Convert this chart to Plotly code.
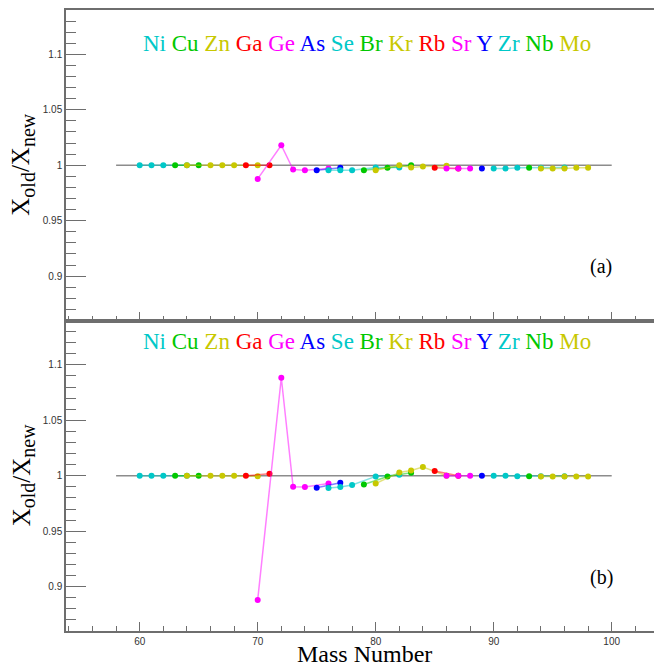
import plotly.graph_objects as go

# ---------------- data ----------------
ELEMENTS = ["Ni", "Cu", "Zn", "Ga", "Ge", "As", "Se", "Br", "Kr", "Rb", "Sr", "Y", "Zr", "Nb", "Mo"]
COLORS = ["#00c8c8", "#00c800", "#c8c800", "#ff0000", "#ff00ff", "#0000ff",
          "#00c8c8", "#00c800", "#c8c800", "#ff0000", "#ff00ff", "#0000ff",
          "#00c8c8", "#00c800", "#c8c800"]

NI_MASS = [60, 61, 62, 64]
CU_MASS = [63, 65]
ZN_MASS = [64, 66, 67, 68, 70]
GA_MASS = [69, 71]
GE_MASS = [70, 72, 73, 74, 76]
AS_MASS = [75, 77]
SE_MASS = [76, 77, 78, 80, 82]
BR_MASS = [79, 81, 83]
KR_MASS = [80, 82, 83, 84, 86]
RB_MASS = [85, 87]
SR_MASS = [86, 87, 88]
Y_MASS = [89]
ZR_MASS = [90, 91, 92, 94, 96]
NB_MASS = [93]
MO_MASS = [94, 95, 96, 97, 98]

# panel (a)
NI_A = [1.0, 1.0, 1.0, 1.0]
CU_A = [1.0, 1.0]
ZN_A = [1.0, 1.0, 1.0, 1.0, 1.0]
GA_A = [1.0, 1.0]
GE_A = [0.9877, 1.018, 0.9961, 0.9955, 0.997]
AS_A = [0.9955, 0.9977]
SE_A = [0.9955, 0.9955, 0.9955, 0.998, 0.998]
BR_A = [0.9955, 0.9977, 1.0]
KR_A = [0.9955, 1.0, 0.998, 0.9988, 0.9995]
RB_A = [0.9977, 0.997]
SR_A = [0.997, 0.997, 0.997]
Y_A = [0.997]
ZR_A = [0.997, 0.997, 0.9977, 0.9977, 0.998]
NB_A = [0.9977]
MO_A = [0.997, 0.997, 0.997, 0.9977, 0.9977]

# panel (b)
NI_B = [1.0, 1.0, 1.0, 1.0]
CU_B = [1.0, 1.0]
ZN_B = [1.0, 1.0, 1.0, 1.0, 0.9995]
GA_B = [1.0, 1.0018]
GE_B = [0.888, 1.0884, 0.990, 0.9898, 0.993]
AS_B = [0.9892, 0.9937]
SE_B = [0.989, 0.9898, 0.9916, 0.9994, 1.001]
BR_B = [0.9921, 0.9994, 1.0027]
KR_B = [0.993, 1.003, 1.0048, 1.0078, 1.0]
RB_B = [1.0042, 1.0]
SR_B = [1.0, 1.0, 1.0]
Y_B = [1.0]
ZR_B = [1.0, 1.0, 0.9995, 0.9995, 0.9995]
NB_B = [0.9995]
MO_B = [0.9994, 0.9994, 0.9994, 0.9994, 0.9994]

REF_X = [58, 100]
REF_Y = [1.0, 1.0]

Y_TICKS = [0.9, 0.95, 1.0, 1.05, 1.1]
Y_TICK_TEXT = ["0.9", "0.95", "1", "1.05", "1.1"]

MASSES = [NI_MASS, CU_MASS, ZN_MASS, GA_MASS, GE_MASS, AS_MASS, SE_MASS, BR_MASS,
          KR_MASS, RB_MASS, SR_MASS, Y_MASS, ZR_MASS, NB_MASS, MO_MASS]
RATIO_A = [NI_A, CU_A, ZN_A, GA_A, GE_A, AS_A, SE_A, BR_A, KR_A, RB_A, SR_A, Y_A, ZR_A, NB_A, MO_A]
RATIO_B = [NI_B, CU_B, ZN_B, GA_B, GE_B, AS_B, SE_B, BR_B, KR_B, RB_B, SR_B, Y_B, ZR_B, NB_B, MO_B]


def rgba(hexc, a):
    h = hexc.lstrip("#")
    r, g, b = int(h[0:2], 16), int(h[2:4], 16), int(h[4:6], 16)
    return f"rgba({r},{g},{b},{a})"


fig = go.Figure()
for xa, ya, ratios in [("x", "y", RATIO_A), ("x2", "y2", RATIO_B)]:
    fig.add_trace(go.Scatter(x=REF_X, y=REF_Y, mode="lines",
                             line=dict(color="#8c8c8c", width=1.5),
                             xaxis=xa, yaxis=ya, hoverinfo="skip", showlegend=False))
    for el, col, m, r in zip(ELEMENTS, COLORS, MASSES, ratios):
        fig.add_trace(go.Scatter(x=m, y=r, mode="lines+markers", name=el,
                                 line=dict(color=rgba(col, 0.5), width=1.5),
                                 marker=dict(color=col, size=6),
                                 xaxis=xa, yaxis=ya, showlegend=False))

AX_COL = "#6e6e6e"
TICK_FONT = dict(family="Liberation Sans, Arial, sans-serif", size=10, color="#333333")

xcommon = dict(range=[53.754, 103.585], showline=True, linecolor=AX_COL, linewidth=1.5,
               mirror=True, ticks="inside", ticklen=9, tickwidth=1, tickcolor=AX_COL,
               tickmode="linear", tick0=0, dtick=10,
               minor=dict(ticks="inside", ticklen=5, tickwidth=1, tickcolor=AX_COL,
                          tickmode="linear", tick0=0, dtick=2),
               showgrid=False, zeroline=False, tickfont=TICK_FONT)
ycommon = dict(range=[0.86, 1.14], showline=True, linecolor=AX_COL, linewidth=1.5,
               mirror=False, ticks="inside", ticklen=20, tickwidth=1, tickcolor=AX_COL,
               tickmode="array", tickvals=Y_TICKS, ticktext=Y_TICK_TEXT,
               minor=dict(ticks="inside", ticklen=10, tickwidth=1, tickcolor=AX_COL,
                          tickmode="linear", tick0=0, dtick=0.01),
               showgrid=False, zeroline=False, tickfont=TICK_FONT)

fig.update_layout(
    width=654, height=666,
    margin=dict(l=66, r=0, t=10, b=35),
    paper_bgcolor="white", plot_bgcolor="white",
    xaxis=dict(**xcommon, anchor="y", domain=[0, 1], showticklabels=False),
    yaxis=dict(**ycommon, anchor="x", domain=[0.5, 1]),
    xaxis2=dict(**xcommon, anchor="y2", domain=[0, 1], showticklabels=True),
    yaxis2=dict(**ycommon, anchor="x2", domain=[0, 0.5]),
)

SERIF = "Liberation Serif, Times New Roman, serif"
legend_text = " ".join(f"<span style='color:{c}'>{e}</span>" for e, c in zip(ELEMENTS, COLORS))

W, H0, H1 = 588.0, 10.0, 631.0
def px(xp):
    return (xp - 66.0) / W
def py(yp):
    return (H1 - yp) / (H1 - H0)

ann = []
for yc in (43.5, 342.0):
    ann.append(dict(text=legend_text, x=px(366.5), y=py(yc), xref="paper", yref="paper",
                    xanchor="center", yanchor="middle", showarrow=False,
                    font=dict(family=SERIF, size=23)))
for lab, yc in (("(a)", 266.0), ("(b)", 577.0)):
    ann.append(dict(text=lab, x=px(601), y=py(yc), xref="paper", yref="paper",
                    xanchor="center", yanchor="middle", showarrow=False,
                    font=dict(family=SERIF, size=20, color="black")))
ytitle = ("X<sub><span style='font-size:20px'>old</span></sub>/"
          "X<sub><span style='font-size:20px'>new</span></sub>")
for yc in (164.7, 475.3):
    ann.append(dict(text=ytitle, x=px(23), y=py(yc),
                    xref="paper", yref="paper", xanchor="center", yanchor="middle",
                    textangle=-90, showarrow=False,
                    font=dict(family=SERIF, size=25, color="black")))
ann.append(dict(text="Mass Number", x=px(364), y=py(654), xref="paper", yref="paper",
                xanchor="center", yanchor="middle", showarrow=False,
                font=dict(family=SERIF, size=24, color="black")))
fig.update_layout(annotations=ann)

fig.write_html("out.html")
